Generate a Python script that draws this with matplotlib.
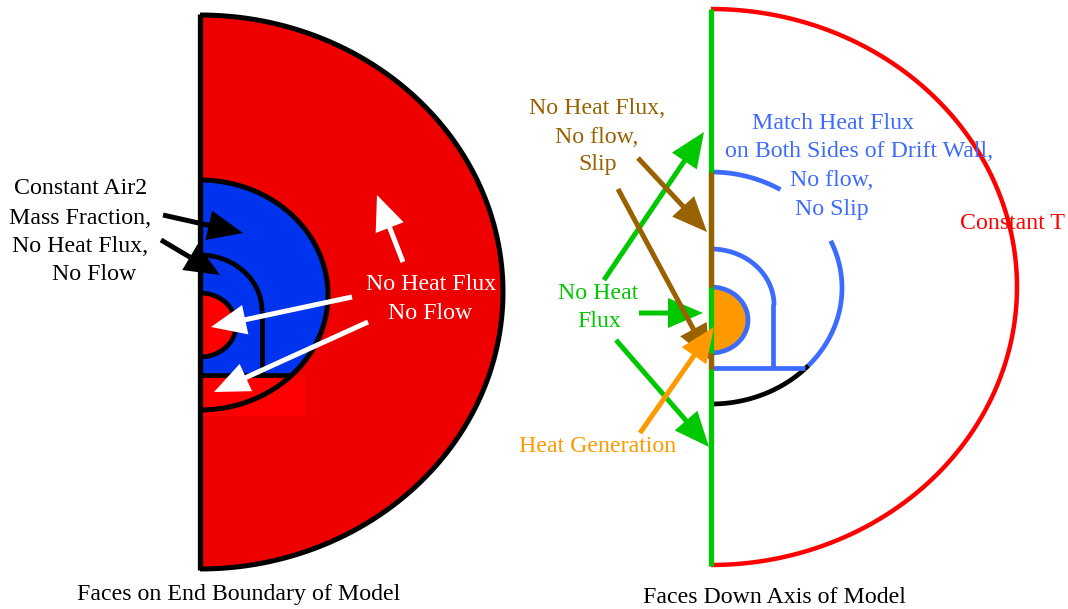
import numpy as np
import matplotlib
matplotlib.use("Agg")
import matplotlib.pyplot as plt
from matplotlib.patches import Rectangle, FancyArrow, Polygon

plt.rcParams["font.family"] = ["Liberation Serif", "DejaVu Serif"]

RED = "#ee0000"
BLUE = "#0033ee"
LBLUE = "#3d6bff"
GREEN = "#00c800"
BROWN = "#996100"
ORANGE = "#ff9900"

# arrows: start x, start y, tip x, tip y
left_black_arrows = [(163, 215, 243, 233), (161, 240, 220, 275)]
left_white_arrows = [(352, 297, 211, 327), (368, 322, 214, 392), (403, 262, 377, 195)]
right_green_arrows = [(604, 280, 704, 132), (639, 313, 703, 313), (616, 340, 709, 447)]
right_brown_arrows = [(638, 158, 707, 232), (618, 189, 710, 360)]
right_orange_arrows = [(640, 433, 714, 327)]

# text: x, y, label, colour
labels = [
    (81, 187, "Constant Air2", "black"),
    (80, 217, "Mass Fraction,", "black"),
    (80, 245, "No Heat Flux,", "black"),
    (94, 273, "No Flow", "black"),
    (431, 283, "No Heat Flux", "white"),
    (430, 312, "No Flow", "white"),
    (239, 593, "Faces on End Boundary of Model", "black"),
    (597, 107, "No Heat Flux,", BROWN),
    (597, 136, "No flow,", BROWN),
    (598, 163, "Slip", BROWN),
    (833, 122, "Match Heat Flux", LBLUE),
    (859, 150, "on Both Sides of Drift Wall,", LBLUE),
    (832, 179, "No flow,", LBLUE),
    (832, 208, "No Slip", LBLUE),
    (1012, 222, "Constant T", "#ff0000"),
    (598, 292, "No Heat", GREEN),
    (599, 320, "Flux", GREEN),
    (598, 445, "Heat Generation", ORANGE),
    (774, 596, "Faces Down Axis of Model", "black"),
]


def half_ell(ax, cx, cy, rx, ry, fc):
    t = np.linspace(-np.pi / 2, np.pi / 2, 200)
    ax.add_patch(Polygon(np.c_[cx + rx * np.cos(t), cy + ry * np.sin(t)], closed=True, fc=fc, ec="none"))


def arc_pts(cx, cy, rx, ry, a0, a1):
    # angles in degrees, measured clockwise on screen from +x
    t = np.radians(np.linspace(a0, a1, 120))
    return cx + rx * np.cos(t), cy + ry * np.sin(t)


def arrow(ax, a, color, w=5, hw=30, hl=35):
    x0, y0, x1, y1 = a
    ax.add_patch(FancyArrow(x0, y0, x1 - x0, y1 - y0, width=w, head_width=hw, head_length=hl,
                            length_includes_head=True, fc=color, ec="none", zorder=6))


fig = plt.figure(figsize=(10.68, 6.09), dpi=100)
ax = fig.add_axes([0, 0, 1, 1])
ax.set_xlim(0, 1068)
ax.set_ylim(609, 0)
ax.axis("off")

# left half: end boundary
half_ell(ax, 200, 292, 303, 277, RED)
half_ell(ax, 200, 295, 128, 115, BLUE)
ax.add_patch(Rectangle((200, 375), 106, 41, fc="#ff0000", ec="none"))
half_ell(ax, 200, 325, 36, 32, "#ff0000")

ax.plot(*arc_pts(200, 292, 303, 277, -90, 90), color="black", lw=3.6, solid_capstyle="butt")
ax.plot(*arc_pts(200, 295, 128, 115, -90, 90), color="black", lw=3.6, solid_capstyle="butt")
ax.plot(*arc_pts(200, 325, 36, 32, -90, 90), color="black", lw=3.4, solid_capstyle="butt")
ax.plot(*arc_pts(200, 311, 62, 56, -90, 0), color="black", lw=3.4, solid_capstyle="butt")
ax.plot([262, 262], [311, 375], color="black", lw=3.4, solid_capstyle="butt")
ax.plot([200, 292], [375, 375], color="black", lw=3.4, solid_capstyle="butt")
ax.plot([200, 200], [14, 570], color="black", lw=3.8, solid_capstyle="butt")

for a in left_black_arrows:
    arrow(ax, a, "black")
for a in left_white_arrows:
    arrow(ax, a, "white")

# right half: axis faces
half_ell(ax, 711, 320, 37, 33, ORANGE)
ax.plot(*arc_pts(711, 287, 306, 278, -90, 90), color="#ff0000", lw=3.2, solid_capstyle="butt")
ax.plot(*arc_pts(711, 288, 131, 116, -90, -58), color=LBLUE, lw=3.4, solid_capstyle="butt")
ax.plot(*arc_pts(711, 288, 131, 116, -24, 42), color=LBLUE, lw=3.4, solid_capstyle="butt")
ax.plot(*arc_pts(711, 288, 131, 116, 42, 90), color="black", lw=3.4, solid_capstyle="butt")
ax.plot(*arc_pts(711, 305, 63, 56, -90, 0), color=LBLUE, lw=3.4, solid_capstyle="butt")
ax.plot(*arc_pts(711, 320, 37, 33, -90, 90), color=LBLUE, lw=3.4, solid_capstyle="butt")
ax.plot([773, 773], [304, 368], color=LBLUE, lw=3.4, solid_capstyle="butt")
ax.plot([711, 805], [368, 368], color=LBLUE, lw=3.4, solid_capstyle="butt")
ax.plot([711, 711], [9, 566], color=GREEN, lw=3.8, solid_capstyle="butt")
ax.plot([711, 711], [172, 287], color=BROWN, lw=3.8, solid_capstyle="butt")
ax.plot([711, 711], [353, 369], color=BROWN, lw=3.8, solid_capstyle="butt")

for a in right_green_arrows:
    arrow(ax, a, GREEN)
for a in right_brown_arrows:
    arrow(ax, a, BROWN)
for a in right_orange_arrows:
    arrow(ax, a, ORANGE)

for x, y, s, c in labels:
    ax.text(x, y + 1.5, s, color=c, fontsize=17.2, ha="center", va="center", zorder=7)

fig.savefig("out.png", dpi=100)
